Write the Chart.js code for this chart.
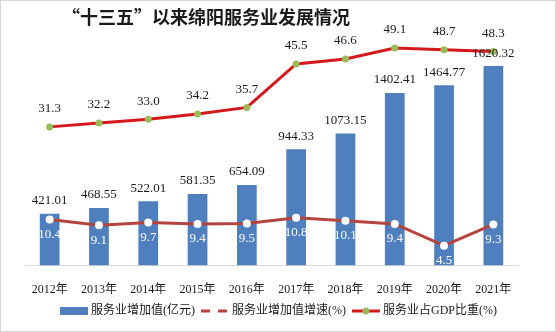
<!DOCTYPE html>
<html lang="zh-CN">
<head>
    <meta charset="UTF-8">
    <title>“十三五”以来绵阳服务业发展情况</title>
    <style>
        html, body {
            margin: 0;
            padding: 0;
            background: #fff;
        }
        #wrap {
            width: 556px;
            height: 332px;
        }
    </style>
    <script src="https://cdn.jsdelivr.net/npm/chart.js"></script>
</head>
<body>
    <div id="wrap"><canvas id="chart" width="556" height="332"></canvas></div>

    <script>
        // 数据
        const years = ['2012年', '2013年', '2014年', '2015年', '2016年', '2017年', '2018年', '2019年', '2020年', '2021年'];
        const addedValue = [421.01, 468.55, 522.01, 581.35, 654.09, 944.33, 1073.15, 1402.41, 1464.77, 1620.32];
        const growthRate = [10.4, 9.1, 9.7, 9.4, 9.5, 10.8, 10.1, 9.4, 4.5, 9.3];
        const gdpShare = [31.3, 32.2, 33.0, 34.2, 35.7, 45.5, 46.6, 49.1, 48.7, 48.3];

        const seriesNames = ['服务业增加值(亿元)', '服务业增加值增速(%)', '服务业占GDP比重(%)'];
        const chartTitle = '“十三五”以来绵阳服务业发展情况';

        const BAR_COLOR = '#4f7fbd';
        const GROWTH_COLOR = '#b5443f';
        const SHARE_COLOR = '#d4181c';
        const SHARE_POINT = '#9bbb59';
        const FONT = "'Liberation Serif', 'Noto Sans CJK SC', serif";

        // 背景、边框和标题
        const frame = {
            id: 'frame',
            beforeDraw(chart) {
                const ctx = chart.ctx;
                ctx.save();
                ctx.fillStyle = '#fff';
                ctx.fillRect(0, 0, chart.width, chart.height);
                ctx.strokeStyle = '#d4d4d4';
                ctx.lineWidth = 1;
                ctx.strokeRect(0.5, 0.5, chart.width - 1, chart.height - 1);
                ctx.fillStyle = '#1a1a1a';
                ctx.font = "bold 18px 'Noto Sans CJK SC', sans-serif";
                ctx.textAlign = 'left';
                ctx.textBaseline = 'middle';
                ctx.fillText(chartTitle, 62, 17);
                ctx.restore();
            }
        };

        // 数值标签
        const valueLabels = {
            id: 'valueLabels',
            afterDatasetsDraw(chart) {
                const ctx = chart.ctx;
                ctx.save();
                ctx.textAlign = 'center';
                ctx.textBaseline = 'middle';
                ctx.font = '13px ' + FONT;

                chart.getDatasetMeta(0).data.forEach((bar, i) => {
                    ctx.fillStyle = '#1a1a1a';
                    ctx.fillText(addedValue[i].toFixed(2), bar.x, bar.y - 13);
                });
                chart.getDatasetMeta(1).data.forEach((pt, i) => {
                    ctx.fillStyle = '#fff';
                    ctx.fillText(growthRate[i].toFixed(1), pt.x, pt.y + 15);
                });
                chart.getDatasetMeta(2).data.forEach((pt, i) => {
                    ctx.fillStyle = '#1a1a1a';
                    ctx.fillText(gdpShare[i].toFixed(1), pt.x, pt.y - 18);
                });
                ctx.restore();
            }
        };

        // 底部图例
        const bottomLegend = {
            id: 'bottomLegend',
            afterDraw(chart) {
                const ctx = chart.ctx;
                ctx.save();
                ctx.font = '12px ' + FONT;
                ctx.textBaseline = 'middle';
                ctx.textAlign = 'left';
                const y = 311;
                const sw = 28, gap = 3, space = 6;
                const widths = seriesNames.map(t => ctx.measureText(t).width);
                const total = widths.reduce((a, b) => a + b, 0) + 3 * (sw + gap) + 2 * space;
                let x = Math.round((chart.width - total) / 2);

                // 柱
                ctx.fillStyle = BAR_COLOR;
                ctx.fillRect(x, y - 4, sw, 8);
                x += sw + gap;
                ctx.fillStyle = '#1a1a1a';
                ctx.fillText(seriesNames[0], x, y);
                x += widths[0] + space;

                // 虚线
                ctx.strokeStyle = GROWTH_COLOR;
                ctx.lineWidth = 3;
                ctx.setLineDash([9, 8]);
                ctx.beginPath();
                ctx.moveTo(x, y);
                ctx.lineTo(x + sw, y);
                ctx.stroke();
                ctx.setLineDash([]);
                x += sw + gap;
                ctx.fillStyle = '#1a1a1a';
                ctx.fillText(seriesNames[1], x, y);
                x += widths[1] + space;

                // 实线带点
                ctx.strokeStyle = SHARE_COLOR;
                ctx.beginPath();
                ctx.moveTo(x, y);
                ctx.lineTo(x + sw, y);
                ctx.stroke();
                ctx.fillStyle = SHARE_POINT;
                ctx.beginPath();
                ctx.arc(x + sw / 2, y, 3.5, 0, Math.PI * 2);
                ctx.fill();
                x += sw + gap;
                ctx.fillStyle = '#1a1a1a';
                ctx.fillText(seriesNames[2], x, y);
                ctx.restore();
            }
        };

        new Chart(document.getElementById('chart'), {
            data: {
                labels: years,
                datasets: [
                    {
                        type: 'bar',
                        label: seriesNames[0],
                        data: addedValue,
                        backgroundColor: BAR_COLOR,
                        yAxisID: 'y',
                        barPercentage: 0.4,
                        categoryPercentage: 1,
                        order: 3
                    },
                    {
                        type: 'line',
                        label: seriesNames[1],
                        data: growthRate,
                        borderColor: GROWTH_COLOR,
                        borderWidth: 3,
                        pointRadius: 4,
                        pointBackgroundColor: '#fff',
                        pointBorderWidth: 0,
                        tension: 0,
                        yAxisID: 'y1',
                        order: 2
                    },
                    {
                        type: 'line',
                        label: seriesNames[2],
                        data: gdpShare,
                        borderColor: SHARE_COLOR,
                        borderWidth: 3,
                        pointRadius: 3.5,
                        pointBackgroundColor: SHARE_POINT,
                        pointBorderWidth: 0,
                        tension: 0,
                        yAxisID: 'y1',
                        order: 1
                    }
                ]
            },
            options: {
                responsive: false,
                devicePixelRatio: 1,
                animation: false,
                layout: {
                    padding: { left: 25, right: 38, top: 44, bottom: 26 }
                },
                plugins: {
                    legend: { display: false },
                    tooltip: { enabled: false }
                },
                scales: {
                    x: {
                        grid: { display: false },
                        border: { color: '#d9d9d9', width: 1 },
                        ticks: {
                            color: '#1a1a1a',
                            padding: 9,
                            font: { family: FONT, size: 12 }
                        }
                    },
                    y: {
                        display: false,
                        min: 0,
                        max: 1800
                    },
                    y1: {
                        display: false,
                        position: 'right',
                        min: 0,
                        max: 50
                    }
                }
            },
            plugins: [frame, valueLabels, bottomLegend]
        });
    </script>
</body>
</html>
